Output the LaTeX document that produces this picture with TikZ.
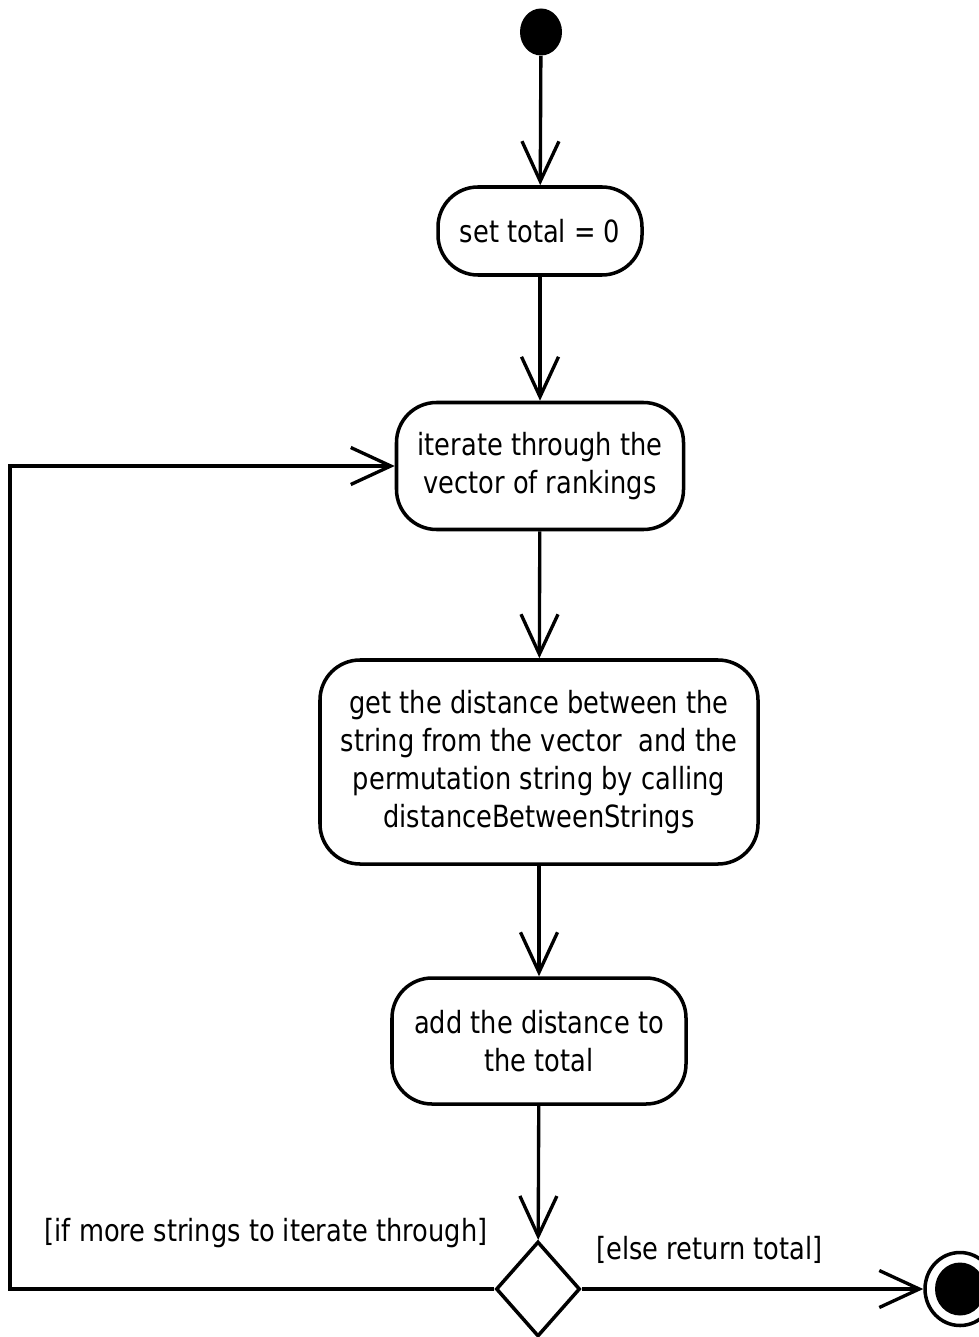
\documentclass[tikz,border=0pt]{standalone}
\usepackage{fontspec}
\setmainfont{DejaVu Sans}[FakeStretch=0.84]
\usetikzlibrary{shapes.geometric,arrows.meta}

\tikzset{
  action/.style={draw=black, line width=2pt, rounded corners=0.8cm, align=center,
    inner sep=0pt, font=\fontsize{17.4}{21.6}\selectfont},
  flow/.style={draw=black, line width=1.9pt,
    -{Straight Barb[length=0.8cm, width=0.74cm, line width=1.9pt]}},
  guard/.style={align=center, font=\fontsize{17.4}{21.6}\selectfont}
}

\begin{document}
\begin{tikzpicture}[draw=black]
\useasboundingbox (0,0) rectangle (19.56,-26.74);

\node[ellipse, fill=black, minimum width=0.84cm, minimum height=0.94cm, inner sep=0pt] (start) at (10.82,-0.64) {};

\node[action, minimum width=4.08cm, minimum height=1.76cm] (settotal) at (10.8,-4.62) {set total = 0};

\node[action, minimum width=5.74cm, minimum height=2.54cm] (iterate) at (10.8,-9.32) {iterate through the\\ vector of rankings};

\node[action, minimum width=8.76cm, minimum height=4.08cm] (getdist) at (10.78,-15.24) {get the distance between the\\string from the vector\ \ and the\\permutation string by calling\\distanceBetweenStrings};

\node[action, minimum width=5.88cm, minimum height=2.52cm] (adddist) at (10.78,-20.82) {add the distance to\\the total};

\node[diamond, draw=black, line width=2pt, minimum width=1.68cm, minimum height=1.9cm, inner sep=0pt] (moreleft) at (10.76,-25.78) {};

\node[ellipse, draw=black, line width=2pt, minimum width=1.4cm, minimum height=1.46cm, inner sep=0pt] (finish) at (19.2,-25.78) {};
\fill[black] (finish.center) ellipse (0.5cm and 0.53cm);

\coordinate (loopcorner) at (0.2,-25.78);

\draw[flow] (start) -- (settotal);
\draw[flow] (settotal) -- (iterate);
\draw[flow] (iterate) -- (getdist);
\draw[flow] (getdist) -- (adddist);
\draw[flow] (adddist) -- (moreleft);
\draw[flow] (moreleft.west) -- (loopcorner) |- (iterate.west);
\draw[flow] (moreleft.east) -- (finish.west);

\node[guard] (moreguard) at (5.32,-24.66) {[if more strings to iterate through]};
\node[guard] (elseguard) at (14.19,-25.0) {[else return total]};
\end{tikzpicture}
\end{document}
